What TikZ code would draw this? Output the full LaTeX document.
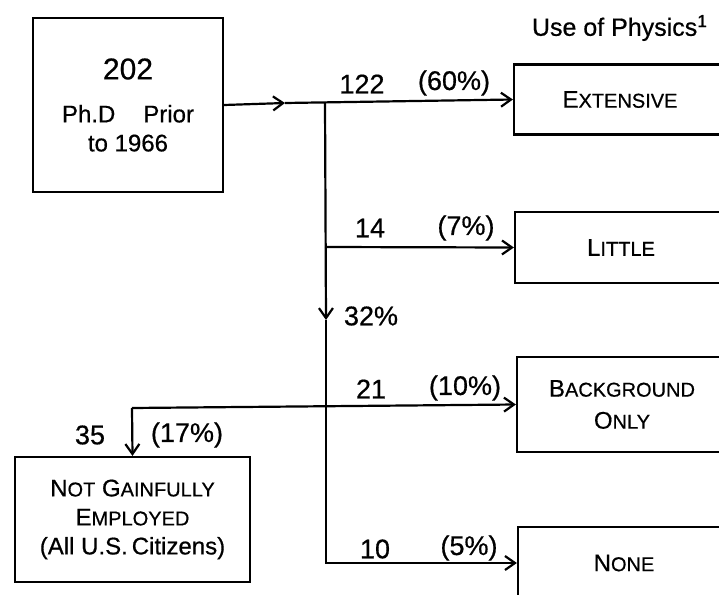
\documentclass[tikz,border=0pt]{standalone}
\usepackage{fontspec}
\setmainfont{Liberation Sans}[UprightFeatures={FakeBold=0.6}]
\usetikzlibrary{arrows.meta, positioning}
\newcommand{\smc}[2]{#1{\fontsize{10}{12}\selectfont #2}}
\tikzset{
  >={Straight Barb[length=5pt,width=7pt]},
  every node/.style={font=\fontsize{12}{14.5}\selectfont},
  box/.style={draw, line width=1.1pt, align=center, inner sep=0pt},
  flow/.style={line width=1.1pt},
  count/.style={font=\fontsize{13.5}{16}\selectfont},
}

\begin{document}
\begin{tikzpicture}[x=0.5pt, y=-0.5pt]
  \useasboundingbox (0,0) rectangle (719,595);
  \clip (0,0) rectangle (719,595);

  % boxes
  \node[box, minimum width=95pt, minimum height=87pt] (src) at (128,105)
    {{\fontsize{15}{17}\selectfont 202}\\[7pt]Ph.D\hspace{14pt}Prior\\to 1966};
  \node[box, minimum width=106pt, minimum height=35pt] (ext) at (620,99.5) {\smc{E}{XTENSIVE}};
  \node[box, minimum width=106pt, minimum height=35.5pt] (lit) at (621,247.5) {\smc{L}{ITTLE}};
  \node[box, minimum width=105pt, minimum height=47.5pt, font=\fontsize{12}{16}\selectfont] (bg) at (622,404.5)
    {\smc{B}{ACKGROUND}\\\smc{O}{NLY}};
  \node[box, minimum width=106pt, minimum height=36pt] (none) at (624,563) {\smc{N}{ONE}};
  \node[box, minimum width=117.5pt, minimum height=62.5pt] (ngain) at (132.5,519.5)
    {\smc{N}{OT} \smc{G}{AINFULLY}\\\smc{E}{MPLOYED}\\(All U.S.\,Citizens)};
  \node[font=\fontsize{12.5}{15}\selectfont] (use) at (620,28) {Use of Physics\textsuperscript{1}};

  % joints
  \coordinate (a0) at (285,103);
  \coordinate (j0) at (325,102);
  \coordinate (j1) at (325,247);
  \coordinate (a1) at (326,320);
  \coordinate (j2) at (132,408);

  % transitions
  \draw[flow, ->] (src.east) -- (a0);
  \draw[flow, ->] (a0) -- (ext.west);
  \draw[flow, ->] (j0) -- (a1);
  \draw[flow, ->] (a1) |- (none.west);
  \draw[flow, ->] (j1) -- (lit.west);
  \draw[flow, ->] (j2) -- (bg.west);
  \draw[flow, ->] (j2) -- (ngain.north);

  % counts
  \node[count] (t122) at (362,84) {122};
  \node[count] (p60) at (454,83) {(60\%)};
  \node[count] (t14) at (370,228) {14};
  \node[count] (p7) at (466,228) {(7\%)};
  \node[count] (p32) at (371,316) {32\%};
  \node[count] (t21) at (371,389) {21};
  \node[count] (p10) at (465,388) {(10\%)};
  \node[count] (t35) at (90,435) {35};
  \node[count] (p17) at (187,435) {(17\%)};
  \node[count] (t10) at (375,549) {10};
  \node[count] (p5) at (469,548) {(5\%)};
\end{tikzpicture}
\end{document}
